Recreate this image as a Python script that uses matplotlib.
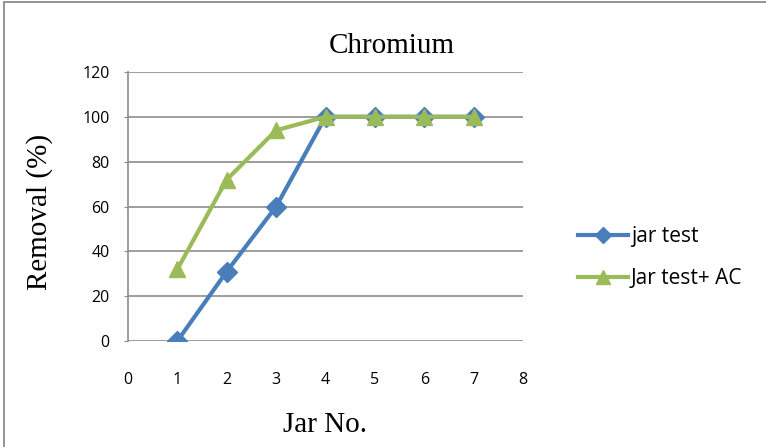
import matplotlib.pyplot as plt
from matplotlib.patches import Rectangle

# data
jar_no = [1, 2, 3, 4, 5, 6, 7]
jar_test = [0, 31, 60, 100, 100, 100, 100]
jar_test_ac = [32, 72, 94, 100, 100, 100, 100]
series_labels = ['jar test', 'Jar test+ AC']

fig = plt.figure(figsize=(7.66, 4.47), dpi=100)
ax = fig.add_axes([0.167, 0.237, 0.516, 0.602])

# outer chart border (Excel style)
fig.patches.append(Rectangle((0.005, -0.05), 1.1, 1.045, transform=fig.transFigure,
                             fill=False, edgecolor='#8C8C8C', linewidth=1.3))

ax.plot(jar_no, jar_test, '-D', color='#4A7EBB', lw=3, ms=10, label=series_labels[0])
ax.plot(jar_no, jar_test_ac, '-^', color='#9BBB59', lw=3, ms=12, label=series_labels[1])

ax.set_xlim(0, 8)
ax.set_ylim(0, 120)
ax.set_xticks(range(0, 9))
ax.set_yticks(range(0, 121, 20))
ax.yaxis.grid(True, color='#8C8C8C', lw=1.2)
ax.set_axisbelow(True)
for s in ['top', 'right', 'bottom']:
    ax.spines[s].set_visible(False)
ax.spines['left'].set_color('#8C8C8C')
ax.spines['left'].set_linewidth(1.2)
ax.tick_params(axis='y', length=3, color='#8C8C8C', labelsize=11.5, pad=10)
ax.tick_params(axis='x', length=0, labelsize=11.5, pad=22)
for lab in ax.get_xticklabels() + ax.get_yticklabels():
    lab.set_fontfamily('Open Sans')

serif = 'Liberation Serif'
fig.text(0.511, 0.898, 'Chromium', ha='center', va='center', fontsize=21, family=serif)
fig.text(0.052, 0.525, 'Removal (%)', ha='center', va='center', rotation=90,
         fontsize=21, family=serif)
fig.text(0.424, 0.05, 'Jar No.', ha='center', va='center', fontsize=21, family=serif)

ax.legend(loc='center left', bbox_to_anchor=(1.09, 0.31), frameon=False,
          prop={'family': 'Open Sans', 'size': 15}, handlelength=2.4,
          handletextpad=0.15, labelspacing=1.0, markerscale=0.85)

fig.savefig('out.png', dpi=100)
